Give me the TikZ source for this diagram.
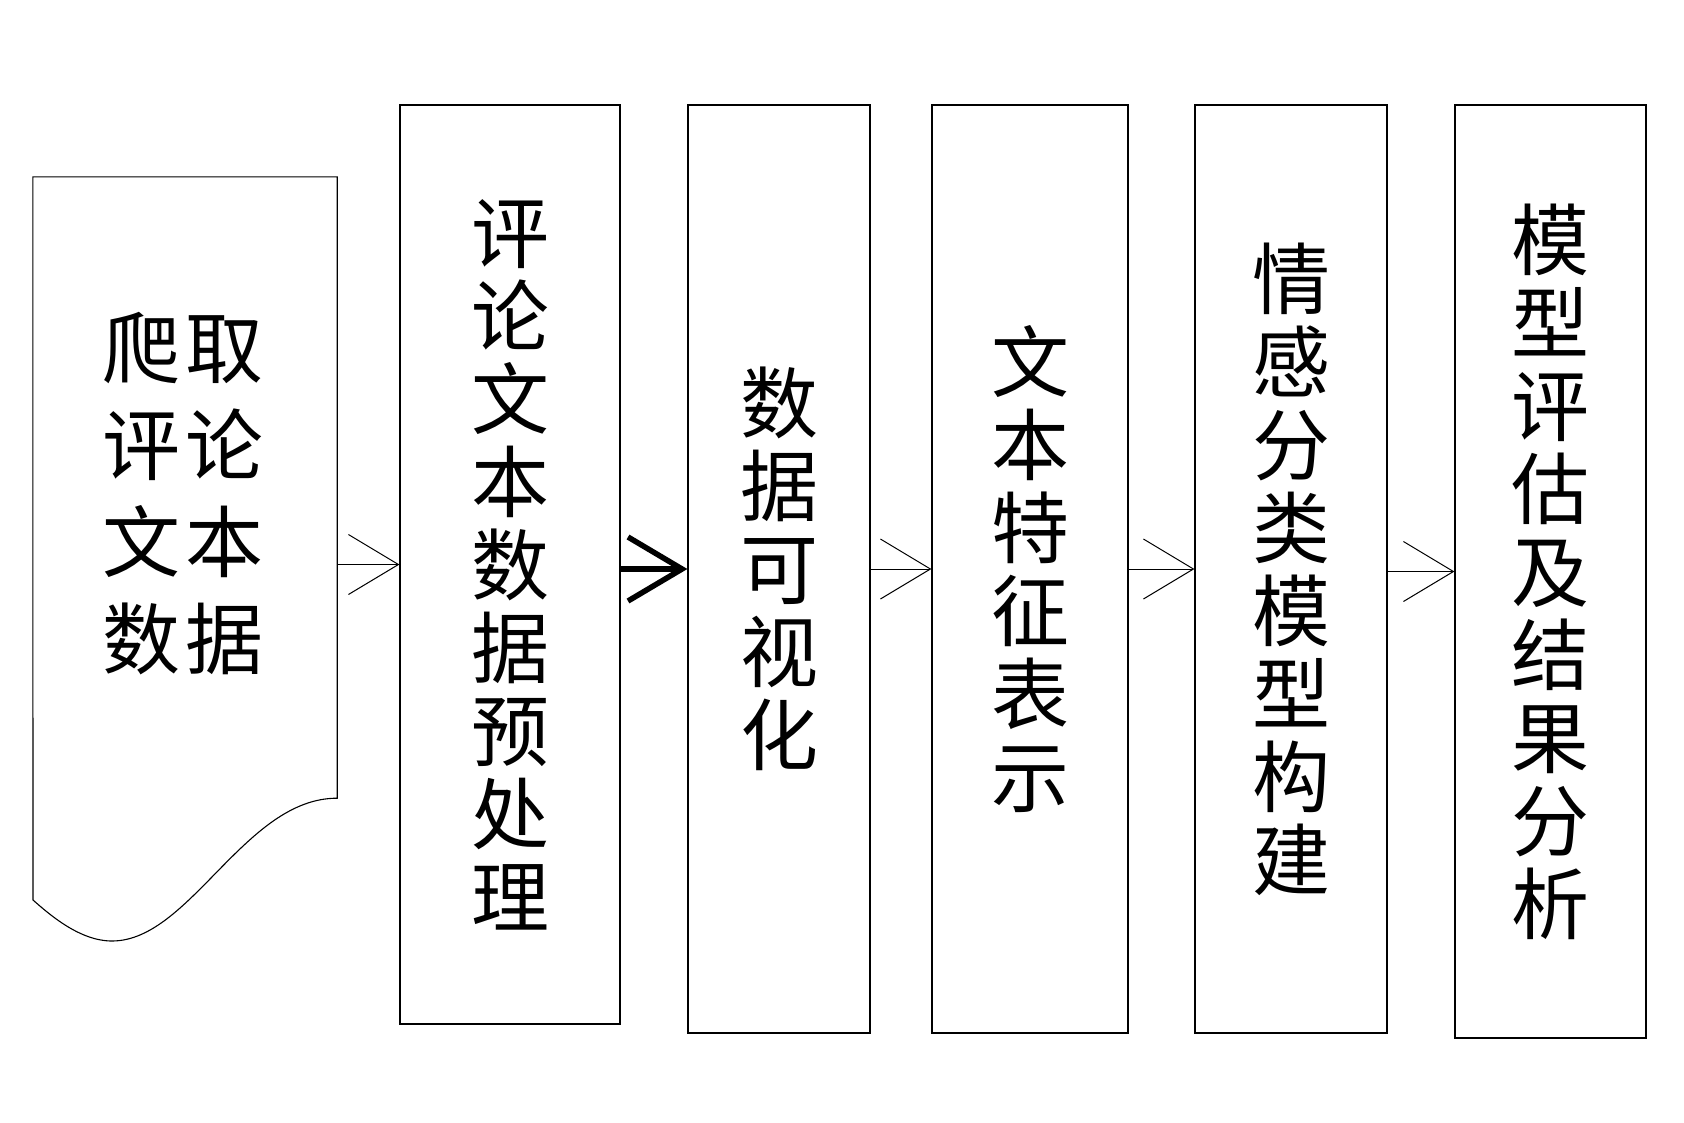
\documentclass[tikz,border=0pt]{standalone}
\usepackage{fontspec}
\newfontfamily\cjk{Noto Sans CJK SC}
\usetikzlibrary{arrows.meta}
\begin{document}
\begin{tikzpicture}[x=1pt,y=-1pt,
  stepbox/.style={draw=black, line width=1.2pt, inner sep=0pt, align=center,
    font=\cjk\fontsize{78}{83}\selectfont},
  thinarrow/.style={line width=1pt, -{Straight Barb[length=50pt,width=60pt]}},
  thickarrow/.style={line width=5.5pt, -{Straight Barb[length=54pt,width=64pt]}}]
\useasboundingbox (0,0) rectangle (1684,1122);
% document shape
\node[inner sep=0pt, minimum width=304pt, minimum height=621pt] (doc) at (185,487.5) {};
\draw[line width=1.1pt] (doc.south east)
  .. controls (245,798) and (190,941) .. (112,941)
  .. controls (80,941) and (50,915) .. (33,900)
  -- (doc.north west) -- (doc.north east) -- cycle;
\node[inner sep=0pt, align=center, font=\cjk\fontsize{78}{97}\selectfont] (doctext) at (183,494)
  {爬\hspace{6pt}取\\评\hspace{6pt}论\\文\hspace{6pt}本\\数\hspace{6pt}据};
% boxes
\node[stepbox, minimum width=220pt, minimum height=919pt] (b1) at (510,564.5)
  {评\\论\\文\\本\\数\\据\\预\\处\\理};
\node[stepbox, minimum width=182pt, minimum height=928pt] (b2) at (779,569)
  {数\\据\\可\\视\\化};
\node[stepbox, minimum width=196pt, minimum height=928pt] (b3) at (1030,569)
  {文\\本\\特\\征\\表\\示};
\node[stepbox, minimum width=192pt, minimum height=928pt] (b4) at (1291,569)
  {情\\感\\分\\类\\模\\型\\构\\建};
\node[stepbox, minimum width=191pt, minimum height=933pt] (b5) at (1550.5,571.5)
  {模\\型\\评\\估\\及\\结\\果\\分\\析};
% connectors
\draw[thinarrow] (b1.west -| doc.east) -- (b1.west);
\draw[thickarrow] (b1.east |- b2.west) -- (b2.west);
\draw[thinarrow] (b2.east) -- (b3.west);
\draw[thinarrow] (b3.east) -- (b4.west);
\draw[thinarrow] (b4.east |- b5.west) -- (b5.west);
\end{tikzpicture}
\end{document}
